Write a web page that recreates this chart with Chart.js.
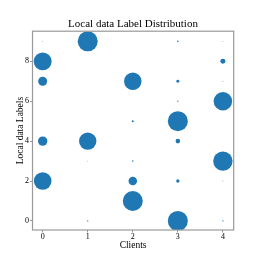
<!DOCTYPE html>
<html>
<head>
    <title>Local data Label Distribution</title>
    <script src="https://cdn.jsdelivr.net/npm/chart.js"></script>
    <style>
        html, body { margin: 0; padding: 0; background: #fff; }
    </style>
</head>
<body>
<canvas id="labelChart" width="263" height="263"></canvas>

<script>
    // clients on the x axis, labels 0..9 on the y axis
    const clients = [0, 1, 2, 3, 4];
    const labels = [0, 1, 2, 3, 4, 5, 6, 7, 8, 9];

    // sample count per (client, label)
    const client0 = [0, 0, 390, 0, 110, 0, 0, 100, 400, 1];
    const client1 = [2, 0, 0, 1, 380, 0, 0, 0, 0, 500];
    const client2 = [0, 500, 90, 3, 0, 5, 0, 380, 0, 0];
    const client3 = [500, 0, 14, 0, 26, 500, 2, 11, 0, 3];
    const client4 = [2, 0, 1, 470, 0, 0, 430, 1, 31, 1];
    const counts = [client0, client1, client2, client3, client4];

    const points = [];
    clients.forEach(function (c, i) {
        labels.forEach(function (l, j) {
            if (counts[i][j] > 0) {
                points.push({ x: c, y: l, r: Math.sqrt(counts[i][j] / 5) });
            }
        });
    });

    const frame = {
        id: 'frame',
        afterDraw(chart) {
            const a = chart.chartArea;
            const ctx = chart.ctx;
            ctx.save();
            ctx.strokeStyle = '#999999';
            ctx.lineWidth = 1.2;
            ctx.strokeRect(a.left, a.top, a.right - a.left, a.bottom - a.top);
            ctx.restore();
        }
    };

    const serif = 'Liberation Serif, Times New Roman, serif';

    new Chart(document.getElementById('labelChart'), {
        type: 'bubble',
        data: {
            datasets: [{
                data: points,
                backgroundColor: '#1f77b4',
                borderWidth: 0,
                hoverBorderWidth: 0
            }]
        },
        options: {
            responsive: false,
            animation: false,
            layout: { padding: { left: 3, right: 0, top: 0, bottom: 0 } },
            plugins: {
                legend: { display: false },
                tooltip: { enabled: false },
                title: {
                    display: true,
                    text: 'Local data Label Distribution',
                    color: '#000',
                    font: { family: serif, size: 11, weight: 'normal', lineHeight: 1.2 },
                    padding: { top: 18, bottom: 0 }
                }
            },
            scales: {
                x: {
                    type: 'linear',
                    min: -0.226,
                    max: 4.24,
                    afterFit: function (s) { s.height = 33; },
                    grid: { drawOnChartArea: false, drawTicks: true, tickLength: 2.5, color: '#999999' },
                    border: { display: false },
                    ticks: {
                        stepSize: 1,
                        includeBounds: false,
                        padding: 0,
                        color: '#000',
                        font: { family: serif, size: 8 }
                    },
                    title: {
                        display: true,
                        text: 'Clients',
                        color: '#000',
                        font: { family: serif, size: 9.5, lineHeight: 1.2 },
                        padding: { top: 0, bottom: 12 }
                    }
                },
                y: {
                    type: 'linear',
                    min: -0.455,
                    max: 9.51,
                    afterFit: function (s) { s.width = 29.5; },
                    grid: { drawOnChartArea: false, drawTicks: true, tickLength: 2.5, color: '#999999' },
                    border: { display: false },
                    ticks: {
                        stepSize: 2,
                        includeBounds: false,
                        padding: 1,
                        color: '#000',
                        font: { family: serif, size: 8 }
                    },
                    title: {
                        display: true,
                        text: 'Local data Labels',
                        color: '#000',
                        font: { family: serif, size: 9.5, lineHeight: 1.2 },
                        padding: { top: 12, bottom: 0 }
                    }
                },
                // empty right-hand axis, only keeps the plot area where the reference has it
                y2: {
                    type: 'linear',
                    position: 'right',
                    afterFit: function (s) { s.width = 29.3; },
                    grid: { display: false },
                    border: { display: false },
                    ticks: { display: false }
                }
            }
        },
        plugins: [frame]
    });
</script>
</body>
</html>
